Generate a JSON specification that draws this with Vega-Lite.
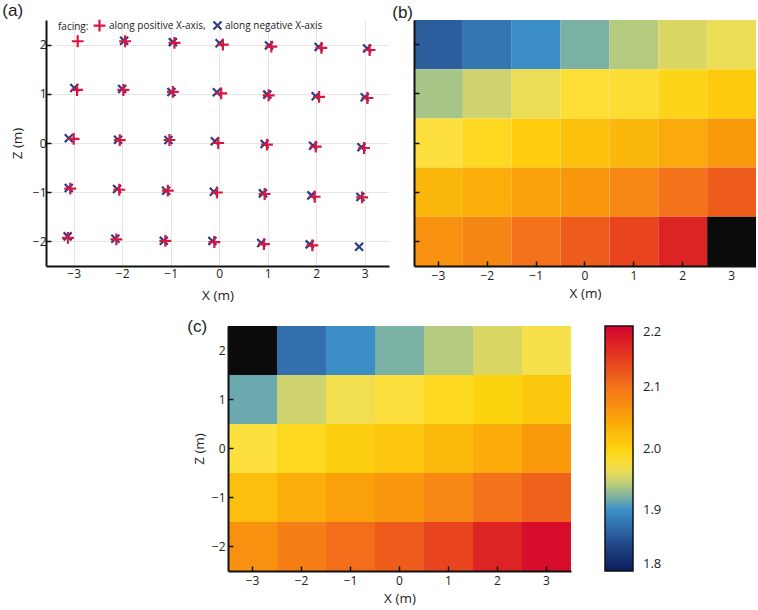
{
  "$schema": "https://vega.github.io/schema/vega-lite/v6.json",
  "padding": {"left": 2, "top": 2, "right": 0, "bottom": 0},
  "config": {
    "font": "Open Sans",
    "view": {"stroke": null},
    "axis": {"domainColor": "#111", "domainWidth": 2, "tickColor": "#111", "tickWidth": 1.5, "labelFontSize": 12, "labelColor": "#222", "titleFontSize": 13.5, "titleFontWeight": "normal", "titleColor": "#222", "grid": false},
    "title": {"fontSize": 17, "fontWeight": "normal", "anchor": "start", "frame": "bounds", "color": "#222", "font": "Liberation Sans"}
  },
  "datasets": {
    "scatter": [
      {"f": "along negative X-axis", "x": -1.96, "z": 2.08},
      {"f": "along negative X-axis", "x": -0.955, "z": 2.05},
      {"f": "along negative X-axis", "x": 0.007, "z": 2.027},
      {"f": "along negative X-axis", "x": 1.026, "z": 1.98},
      {"f": "along negative X-axis", "x": 2.05, "z": 1.953},
      {"f": "along negative X-axis", "x": 3.049, "z": 1.919},
      {"f": "along negative X-axis", "x": -2.987, "z": 1.119},
      {"f": "along negative X-axis", "x": -2.0, "z": 1.098},
      {"f": "along negative X-axis", "x": -0.984, "z": 1.037},
      {"f": "along negative X-axis", "x": -0.048, "z": 1.03},
      {"f": "along negative X-axis", "x": 0.991, "z": 0.983},
      {"f": "along negative X-axis", "x": 1.989, "z": 0.95},
      {"f": "along negative X-axis", "x": 3.0, "z": 0.929},
      {"f": "along negative X-axis", "x": -3.1, "z": 0.095},
      {"f": "along negative X-axis", "x": -2.085, "z": 0.068},
      {"f": "along negative X-axis", "x": -1.046, "z": 0.061},
      {"f": "along negative X-axis", "x": -0.09, "z": 0.034},
      {"f": "along negative X-axis", "x": 0.936, "z": -0.02},
      {"f": "along negative X-axis", "x": 1.935, "z": -0.054},
      {"f": "along negative X-axis", "x": 2.932, "z": -0.088},
      {"f": "along negative X-axis", "x": -3.1, "z": -0.915},
      {"f": "along negative X-axis", "x": -2.105, "z": -0.935},
      {"f": "along negative X-axis", "x": -1.094, "z": -0.969},
      {"f": "along negative X-axis", "x": -0.11, "z": -0.99},
      {"f": "along negative X-axis", "x": 0.902, "z": -1.024},
      {"f": "along negative X-axis", "x": 1.9, "z": -1.064},
      {"f": "along negative X-axis", "x": 2.911, "z": -1.098},
      {"f": "along negative X-axis", "x": -3.124, "z": -1.898},
      {"f": "along negative X-axis", "x": -2.14, "z": -1.946},
      {"f": "along negative X-axis", "x": -1.142, "z": -1.986},
      {"f": "along negative X-axis", "x": -0.14, "z": -1.993},
      {"f": "along negative X-axis", "x": 0.867, "z": -2.034},
      {"f": "along negative X-axis", "x": 1.865, "z": -2.061},
      {"f": "along negative X-axis", "x": 2.884, "z": -2.109},
      {"f": "along positive X-axis", "x": -2.917, "z": 2.068},
      {"f": "along positive X-axis", "x": -1.94, "z": 2.068},
      {"f": "along positive X-axis", "x": -0.922, "z": 2.034},
      {"f": "along positive X-axis", "x": 0.076, "z": 2.0},
      {"f": "along positive X-axis", "x": 1.074, "z": 1.959},
      {"f": "along positive X-axis", "x": 2.106, "z": 1.932},
      {"f": "along positive X-axis", "x": 3.1, "z": 1.89},
      {"f": "along positive X-axis", "x": -2.93, "z": 1.078},
      {"f": "along positive X-axis", "x": -1.975, "z": 1.078},
      {"f": "along positive X-axis", "x": -0.955, "z": 1.04},
      {"f": "along positive X-axis", "x": 0.041, "z": 1.01},
      {"f": "along positive X-axis", "x": 1.019, "z": 0.97},
      {"f": "along positive X-axis", "x": 2.058, "z": 0.936},
      {"f": "along positive X-axis", "x": 3.055, "z": 0.915},
      {"f": "along positive X-axis", "x": -3.0, "z": 0.085},
      {"f": "along positive X-axis", "x": -2.05, "z": 0.06},
      {"f": "along positive X-axis", "x": -1.025, "z": 0.061},
      {"f": "along positive X-axis", "x": -0.02, "z": 0.0},
      {"f": "along positive X-axis", "x": 0.985, "z": -0.034},
      {"f": "along positive X-axis", "x": 1.99, "z": -0.074},
      {"f": "along positive X-axis", "x": 2.987, "z": -0.102},
      {"f": "along positive X-axis", "x": -3.07, "z": -0.929},
      {"f": "along positive X-axis", "x": -2.06, "z": -0.95},
      {"f": "along positive X-axis", "x": -1.06, "z": -0.969},
      {"f": "along positive X-axis", "x": -0.047, "z": -1.006},
      {"f": "along positive X-axis", "x": 0.936, "z": -1.037},
      {"f": "along positive X-axis", "x": 1.968, "z": -1.092},
      {"f": "along positive X-axis", "x": 2.946, "z": -1.105},
      {"f": "along positive X-axis", "x": -3.117, "z": -1.93},
      {"f": "along positive X-axis", "x": -2.12, "z": -1.96},
      {"f": "along positive X-axis", "x": -1.11, "z": -1.99},
      {"f": "along positive X-axis", "x": -0.1, "z": -2.013},
      {"f": "along positive X-axis", "x": 0.922, "z": -2.054},
      {"f": "along positive X-axis", "x": 1.92, "z": -2.081}
    ],
    "b": [
      {"x": -3, "z": 2, "v": 1.86}, {"x": -2, "z": 2, "v": 1.88}, {"x": -1, "z": 2, "v": 1.9}, {"x": 0, "z": 2, "v": 1.92}, {"x": 1, "z": 2, "v": 1.94}, {"x": 2, "z": 2, "v": 1.955}, {"x": 3, "z": 2, "v": 1.962},
      {"x": -3, "z": 1, "v": 1.935}, {"x": -2, "z": 1, "v": 1.95}, {"x": -1, "z": 1, "v": 1.962}, {"x": 0, "z": 1, "v": 1.978}, {"x": 1, "z": 1, "v": 1.98}, {"x": 2, "z": 1, "v": 1.995}, {"x": 3, "z": 1, "v": 2.008},
      {"x": -3, "z": 0, "v": 1.975}, {"x": -2, "z": 0, "v": 1.99}, {"x": -1, "z": 0, "v": 2.005}, {"x": 0, "z": 0, "v": 2.018}, {"x": 1, "z": 0, "v": 2.028}, {"x": 2, "z": 0, "v": 2.042}, {"x": 3, "z": 0, "v": 2.058},
      {"x": -3, "z": -1, "v": 2.028}, {"x": -2, "z": -1, "v": 2.038}, {"x": -1, "z": -1, "v": 2.052}, {"x": 0, "z": -1, "v": 2.062}, {"x": 1, "z": -1, "v": 2.078}, {"x": 2, "z": -1, "v": 2.1}, {"x": 3, "z": -1, "v": 2.12},
      {"x": -3, "z": -2, "v": 2.068}, {"x": -2, "z": -2, "v": 2.08}, {"x": -1, "z": -2, "v": 2.1}, {"x": 0, "z": -2, "v": 2.12}, {"x": 1, "z": -2, "v": 2.14}, {"x": 2, "z": -2, "v": 2.17}, {"x": 3, "z": -2, "v": null}
    ],
    "c": [
      {"x": -3, "z": 2, "v": null}, {"x": -2, "z": 2, "v": 1.875}, {"x": -1, "z": 2, "v": 1.9}, {"x": 0, "z": 2, "v": 1.92}, {"x": 1, "z": 2, "v": 1.94}, {"x": 2, "z": 2, "v": 1.955}, {"x": 3, "z": 2, "v": 1.967},
      {"x": -3, "z": 1, "v": 1.915}, {"x": -2, "z": 1, "v": 1.95}, {"x": -1, "z": 1, "v": 1.965}, {"x": 0, "z": 1, "v": 1.975}, {"x": 1, "z": 1, "v": 1.99}, {"x": 2, "z": 1, "v": 2.0}, {"x": 3, "z": 1, "v": 2.01},
      {"x": -3, "z": 0, "v": 1.975}, {"x": -2, "z": 0, "v": 1.99}, {"x": -1, "z": 0, "v": 2.003}, {"x": 0, "z": 0, "v": 2.012}, {"x": 1, "z": 0, "v": 2.025}, {"x": 2, "z": 0, "v": 2.04}, {"x": 3, "z": 0, "v": 2.058},
      {"x": -3, "z": -1, "v": 2.02}, {"x": -2, "z": -1, "v": 2.038}, {"x": -1, "z": -1, "v": 2.052}, {"x": 0, "z": -1, "v": 2.062}, {"x": 1, "z": -1, "v": 2.078}, {"x": 2, "z": -1, "v": 2.1}, {"x": 3, "z": -1, "v": 2.115},
      {"x": -3, "z": -2, "v": 2.068}, {"x": -2, "z": -2, "v": 2.088}, {"x": -1, "z": -2, "v": 2.105}, {"x": 0, "z": -2, "v": 2.12}, {"x": 1, "z": -2, "v": 2.14}, {"x": 2, "z": -2, "v": 2.17}, {"x": 3, "z": -2, "v": 2.19}
    ]
  },
  "resolve": {"scale": {"color": "independent", "shape": "independent", "size": "independent"}, "legend": {"color": "independent", "shape": "independent", "size": "independent"}},
  "spacing": 16,
  "vconcat": [
    {
      "spacing": 3,
      "resolve": {"scale": {"color": "independent", "shape": "independent", "size": "independent"}, "legend": {"color": "independent", "shape": "independent", "size": "independent"}},
      "hconcat": [
        {
          "title": {"text": "(a)", "dx": -8, "offset": -2},
          "width": 343,
          "height": 246,
          "data": {"name": "scatter"},
          "mark": {"type": "point", "filled": false, "strokeWidth": 2.2, "opacity": 1},
          "encoding": {
            "x": {"field": "x", "type": "quantitative", "scale": {"domain": [-3.57, 3.5], "nice": false, "zero": false},
                  "axis": {"values": [-3, -2, -1, 0, 1, 2, 3], "title": "X (m)", "grid": true, "gridColor": "#e6e6e6", "ticks": false, "tickSize": 0, "labelPadding": 2, "titlePadding": 9}},
            "y": {"field": "z", "type": "quantitative", "scale": {"domain": [-2.5, 2.5], "nice": false, "zero": false},
                  "axis": {"values": [-2, -1, 0, 1, 2], "title": "Z (m)", "grid": true, "gridColor": "#e6e6e6", "tickSize": -5, "labelPadding": 5, "titlePadding": 8}},
            "color": {"field": "f", "type": "nominal",
                      "scale": {"domain": ["along positive X-axis", "along negative X-axis"], "range": ["#d9163f", "#2c3b85"]},
                      "legend": {"orient": "none", "legendX": 12, "legendY": -2, "direction": "horizontal", "title": "facing:", "titleOrient": "left", "titleFontSize": 10, "titleFontWeight": "normal", "titleColor": "#222", "labelFontSize": 10, "labelColor": "#222", "labelExpr": "datum.label == 'along positive X-axis' ? datum.label + ',' : datum.label", "columnPadding": 3, "symbolStrokeWidth": 2.2, "labelOffset": 2, "titlePadding": 3, "padding": 0}},
            "shape": {"field": "f", "type": "nominal",
                      "scale": {"domain": ["along positive X-axis", "along negative X-axis"], "range": ["M-1,0H1M0,-1V1", "M-1,-1L1,1M-1,1L1,-1"]},
                      "legend": {"orient": "none", "legendX": 12, "legendY": -2, "direction": "horizontal", "title": "facing:", "titleOrient": "left", "titleFontSize": 10, "titleFontWeight": "normal", "titleColor": "#222", "labelFontSize": 10, "labelColor": "#222", "labelExpr": "datum.label == 'along positive X-axis' ? datum.label + ',' : datum.label", "columnPadding": 3, "symbolStrokeWidth": 2.2, "labelOffset": 2, "titlePadding": 3, "padding": 0}},
            "size": {"field": "f", "type": "nominal",
                     "scale": {"domain": ["along positive X-axis", "along negative X-axis"], "range": [140, 64]},
                     "legend": {"orient": "none", "legendX": 12, "legendY": -2, "direction": "horizontal", "title": "facing:", "titleOrient": "left", "titleFontSize": 10, "titleFontWeight": "normal", "titleColor": "#222", "labelFontSize": 10, "labelColor": "#222", "labelExpr": "datum.label == 'along positive X-axis' ? datum.label + ',' : datum.label", "columnPadding": 3, "symbolStrokeWidth": 2.2, "labelOffset": 2, "titlePadding": 3, "padding": 0}}
          }
        },
        {
          "title": {"text": "(b)", "dx": -21, "offset": -2},
          "width": 342,
          "height": 246,
          "data": {"name": "b"},
          "encoding": {
            "x": {"field": "x", "type": "ordinal", "sort": "ascending", "scale": {"paddingInner": 0, "paddingOuter": 0},
                  "axis": {"title": "X (m)", "labelAngle": 0, "tickSize": -5, "labelPadding": 9, "titlePadding": 5, "labelExpr": "replace(datum.label, '-', '\u2212')"}},
            "y": {"field": "z", "type": "ordinal", "sort": "descending", "scale": {"paddingInner": 0, "paddingOuter": 0},
                  "axis": {"title": null, "labels": false, "tickSize": -5}}
          },
          "layer": [
            {
              "transform": [{"filter": "isValid(datum.v)"}],
              "mark": {"type": "rect"},
              "encoding": {
                "color": {"field": "v", "type": "quantitative",
                          "scale": {"domain": [1.8, 1.84, 1.87, 1.9, 1.91, 1.93, 1.95, 1.97, 2.0, 2.05, 2.1, 2.15, 2.2],
                                    "range": ["#0b1d5a", "#1f4585", "#2f6aa8", "#3c8fc6", "#5aa2b8", "#99c08f", "#cfd36f", "#fde346", "#fdd20f", "#faa209", "#f4731a", "#e5391f", "#d4022e"],
                                    "interpolate": "rgb"},
                          "legend": null}
              }
            },
            {
              "transform": [{"filter": "!isValid(datum.v)"}],
              "mark": {"type": "rect", "color": "#0b0b0b"},
              "encoding": {}
            }
          ]
        }
      ]
    },
    {
      "spacing": 0,
      "resolve": {"scale": {"color": "independent"}, "legend": {"color": "independent"}},
      "hconcat": [
        {
          "width": 141,
          "height": 20,
          "data": {"values": []},
          "mark": {"type": "point", "opacity": 0},
          "encoding": {}
        },
        {
          "title": {"text": "(c)", "dx": -5, "offset": -10},
          "width": 343,
          "height": 245,
          "data": {"name": "c"},
          "encoding": {
            "x": {"field": "x", "type": "ordinal", "sort": "ascending", "scale": {"paddingInner": 0, "paddingOuter": 0},
                  "axis": {"title": "X (m)", "labelAngle": 0, "tickSize": -5, "labelPadding": 9, "titlePadding": 5, "labelExpr": "replace(datum.label, '-', '\u2212')"}},
            "y": {"field": "z", "type": "ordinal", "sort": "descending", "scale": {"paddingInner": 0, "paddingOuter": 0},
                  "axis": {"title": "Z (m)", "tickSize": -5, "labelPadding": 8, "titlePadding": 5, "labelExpr": "replace(datum.label, '-', '\u2212')"}}
          },
          "layer": [
            {
              "transform": [{"filter": "isValid(datum.v)"}],
              "mark": {"type": "rect"},
              "encoding": {
                "color": {"field": "v", "type": "quantitative",
                          "scale": {"domain": [1.8, 1.84, 1.87, 1.9, 1.91, 1.93, 1.95, 1.97, 2.0, 2.05, 2.1, 2.15, 2.2],
                                    "range": ["#0b1d5a", "#1f4585", "#2f6aa8", "#3c8fc6", "#5aa2b8", "#99c08f", "#cfd36f", "#fde346", "#fdd20f", "#faa209", "#f4731a", "#e5391f", "#d4022e"],
                                    "interpolate": "rgb"},
                          "legend": {"title": null, "orient": "right", "offset": 34, "direction": "vertical", "gradientLength": 245, "gradientThickness": 28, "values": [1.8, 1.9, 2.0, 2.1, 2.2], "format": ".1f", "labelFontSize": 13, "labelColor": "#222", "labelOffset": 10, "labelBaseline": "middle", "gradientStrokeColor": "#111", "gradientStrokeWidth": 1.5}}
              }
            },
            {
              "transform": [{"filter": "!isValid(datum.v)"}],
              "mark": {"type": "rect", "color": "#0b0b0b"},
              "encoding": {}
            }
          ]
        }
      ]
    }
  ]
}
